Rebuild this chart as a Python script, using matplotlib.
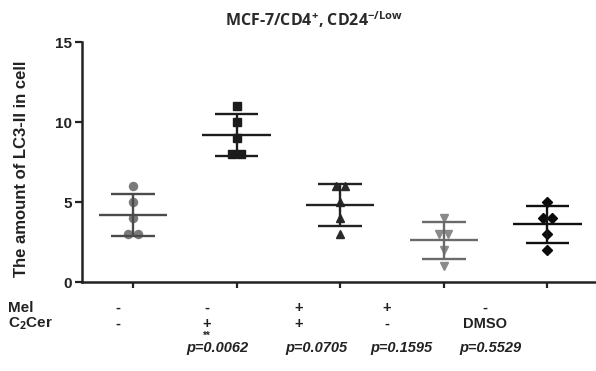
import matplotlib
matplotlib.use("Agg")
import matplotlib.pyplot as plt
import numpy as np

plt.rcParams['font.family'] = ['Liberation Sans', 'DejaVu Sans']
plt.rcParams['mathtext.fontset'] = 'custom'
plt.rcParams['mathtext.rm'] = 'Open Sans'
plt.rcParams['mathtext.it'] = 'Open Sans:italic'
plt.rcParams['mathtext.bf'] = 'Open Sans:bold'
plt.rcParams['axes.unicode_minus'] = False

# data
groups = [1, 2, 3, 4, 5]
ctrl = [6, 5, 4, 3, 3]
c2cer = [11, 10, 9, 8, 8]
mel_c2cer = [6, 6, 5, 4, 3]
mel = [4, 3, 3, 2, 1]
dmso = [5, 4, 4, 3, 2]
series = [ctrl, c2cer, mel_c2cer, mel, dmso]

markers = ['o', 's', '^', 'v', 'D']
point_colors = ['#7a7a7a', '#1c1c1c', '#2a2a2a', '#8a8a8a', '#0a0a0a']
line_colors = ['#4a4a4a', '#1c1c1c', '#222222', '#6a6a6a', '#111111']
marker_sizes = [5.8, 5.6, 5.8, 5.8, 5.0]

row_mel = ['-', '-', '+', '+', '-']
row_c2cer = ['-', '+', '+', '-', 'DMSO']
stars = ['', '**', '', '', '']
pvals = ['', 'p=0.0062', 'p=0.0705', 'p=0.1595', 'p=0.5529']

yticks = [0, 5, 10, 15]


def spread(vals, step=0.09):
    """horizontal offsets for tied values, like a column scatter"""
    vals = np.asarray(vals, dtype=float)
    offs = np.zeros(len(vals))
    for v in np.unique(vals):
        idx = np.where(vals == v)[0]
        n = len(idx)
        offs[idx] = (np.arange(n) - (n - 1) / 2.0) * step
    return offs


fig = plt.figure(figsize=(5.96, 3.71), dpi=100)
ax = fig.add_axes([82 / 596, 1 - 282 / 371, 1 - 82 / 596, (282 - 42) / 371])

for g, vals, m, pc, lc, ms in zip(groups, series, markers, point_colors,
                                  line_colors, marker_sizes):
    vals = np.asarray(vals, dtype=float)
    mean = vals.mean()
    sd = vals.std(ddof=1)
    ax.plot(g + spread(vals), vals, linestyle='none', marker=m, ms=ms,
            color=pc, mec=pc, zorder=2)
    ax.hlines(mean, g - 0.33, g + 0.33, color=lc, lw=1.7, zorder=3)
    ax.hlines([mean - sd, mean + sd], g - 0.21, g + 0.21, color=lc, lw=1.7,
              zorder=3)
    ax.vlines(g, mean - sd, mean + sd, color=lc, lw=1.7, zorder=3)

ax.set_xlim(0.507, 5.47)
ax.set_ylim(0, 15)
ax.set_yticks(yticks)
ax.set_yticklabels([str(t) for t in yticks], fontsize=11, fontweight='bold',
                   color='#222222')
ax.set_xticks(groups)
ax.set_xticklabels([])
ax.tick_params(axis='y', length=5, width=1.6, color='#222222', pad=2)
ax.tick_params(axis='x', length=4, width=1.6, color='#222222')
for s in ['top', 'right']:
    ax.spines[s].set_visible(False)
for s in ['left', 'bottom']:
    ax.spines[s].set_linewidth(1.8)
    ax.spines[s].set_color('#222222')

ax.set_ylabel('The amount of LC3-II in cell', fontsize=12, fontweight='bold',
              color='#222222')
ax.yaxis.set_label_coords(-0.103, 0.47)

fig.text(314 / 596, 1 - 20 / 371,
         'MCF-7/CD4$^{\\mathbf{+}}$, CD24$^{\\mathbf{-/Low}}$',
         ha='center', va='center', fontsize=11.5, fontweight='bold',
         color='#2a2a2a', family='Open Sans')

# treatment table under the axis
col_x = [118, 207, 299, 387, 485]
p_x = [217, 316, 401, 490]
fig.text(8 / 596, 1 - 308 / 371, 'Mel', ha='left', va='center',
         fontsize=11, fontweight='bold', color='#222222')
fig.text(8 / 596, 1 - 324 / 371, 'C$_\\mathbf{2}$Cer', ha='left',
         va='center', fontsize=11, fontweight='bold', color='#222222')
for x, a, b, s in zip(col_x, row_mel, row_c2cer, stars):
    fig.text(x / 596, 1 - 308 / 371, a, ha='center', va='center',
             fontsize=10.5, fontweight='bold', color='#222222')
    fig.text(x / 596, 1 - 324 / 371, b, ha='center', va='center',
             fontsize=10.5, fontweight='bold', color='#222222')
    if s:
        fig.text(x / 596, 1 - 336 / 371, s, ha='center', va='center',
                 fontsize=7, fontweight='bold', color='#222222')
for x, p in zip(p_x, [p for p in pvals if p]):
    fig.text(x / 596, 1 - 348 / 371, p, ha='center', va='center',
             fontsize=10.5, fontweight='bold', style='italic',
             color='#222222')

fig.savefig('out.png', dpi=100)
